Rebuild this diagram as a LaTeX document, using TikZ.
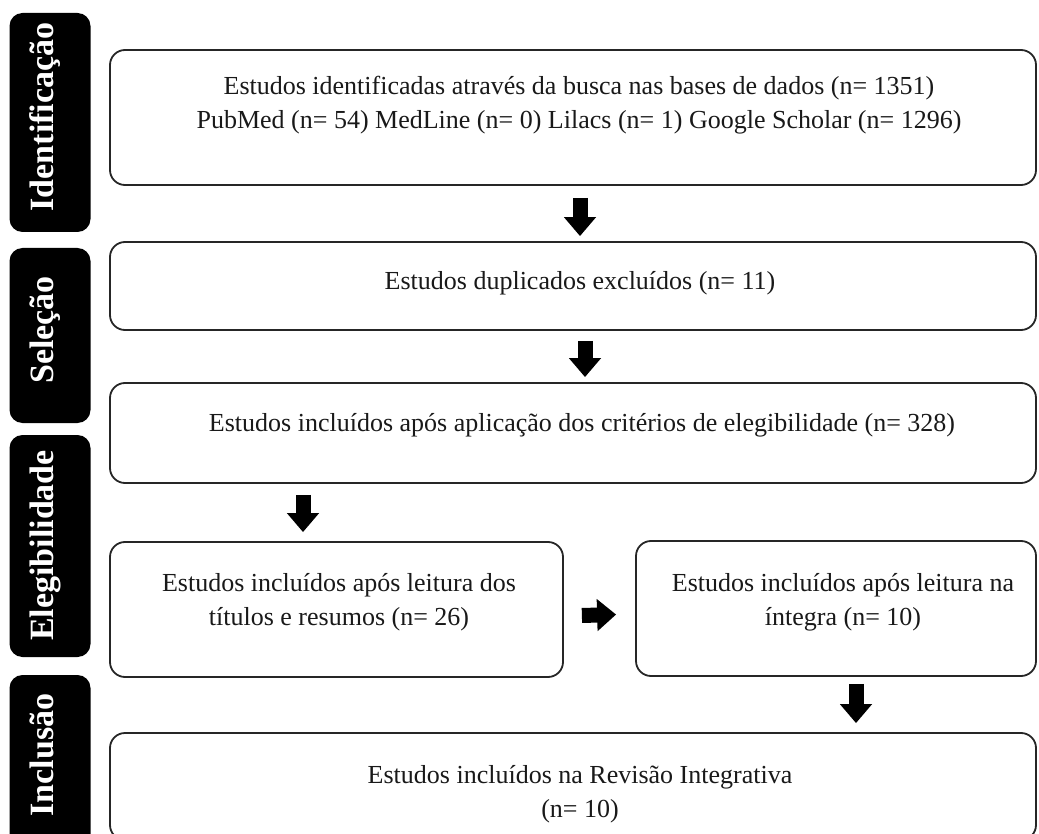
\documentclass[tikz,border=0pt]{standalone}
\usepackage{fontspec}
\setmainfont{Liberation Serif}
\usetikzlibrary{arrows.meta}
\begin{document}
\begin{tikzpicture}[x=1pt,y=-1pt,
  box/.style={draw=black!85, line width=1.8pt, rounded corners=15pt, fill=white, inner sep=0pt},
  bar/.style={fill=black, rounded corners=13pt, inner sep=0pt, minimum width=81pt},
  bartext/.style={text=white, font=\fontsize{34}{34}\selectfont\bfseries, rotate=90, anchor=base, inner sep=0pt},
  txt/.style={align=center, font=\fontsize{26}{34}\selectfont, text=black!90, inner sep=0pt},
  barrow/.style={line width=15pt, draw=black, -{Triangle[width=31pt,length=19pt]}}
]
\useasboundingbox (0,0) rectangle (1039,834);
\fill[white] (0,0) rectangle (1039,834);

% phase bars
\node[bar, minimum height=219pt] (l1) at (50,122.5) {};
\node[bar, minimum height=175pt] (l2) at (50,335.5) {};
\node[bar, minimum height=222pt] (l3) at (50,546) {};
\node[bar, minimum height=175pt] (l4) at (50,762.5) {};
\node[bartext] (lt1) at (53,117) {Identificação};
\node[bartext] (lt2) at (53,330) {Seleção};
\node[bartext] (lt3) at (53,545.5) {Elegibilidade};
\node[bartext] (lt4) at (53,755) {Inclusão};

% boxes
\node[box, minimum width=926pt, minimum height=135pt] (b1) at (573,117.5) {};
\node[box, minimum width=926pt, minimum height=88pt] (b2) at (573,286) {};
\node[box, minimum width=926pt, minimum height=100pt] (b3) at (573,433) {};
\node[box, minimum width=453pt, minimum height=135pt] (b4) at (336.5,609.5) {};
\node[box, minimum width=400pt, minimum height=135pt] (b5) at (836,608.5) {};
\node[box, minimum width=926pt, minimum height=107pt] (b6) at (573,786.5) {};

% texts
\node[txt] (t1) at (579,105) {Estudos identificadas através da busca nas bases de dados (n= 1351)\\PubMed (n= 54) MedLine (n= 0) Lilacs (n= 1) Google Scholar (n= 1296)};
\node[txt] (t2) at (580,283) {Estudos duplicados excluídos (n= 11)};
\node[txt] (t3) at (582,425) {Estudos incluídos após aplicação dos critérios de elegibilidade (n= 328)};
\node[txt] (t4) at (339,602.5) {Estudos incluídos após leitura dos\\títulos e resumos (n= 26)};
\node[txt] (t5) at (843,602.5) {Estudos incluídos após leitura na\\íntegra (n= 10)};
\node[txt] (t6) at (580,794.5) {Estudos incluídos na Revisão Integrativa\\(n= 10)};

% arrows
\draw[barrow, shorten <=12pt, shorten >=5pt] ([xshift=7pt]b1.south) -- ([xshift=7pt]b2.north);
\draw[barrow, shorten <=10pt, shorten >=5pt] ([xshift=12pt]b2.south) -- ([xshift=12pt]b3.north);
\draw[barrow, shorten <=11pt, shorten >=9pt] (b3.south -| 303,0) -- (b4.north -| 303,0);
\draw[barrow, shorten <=18pt, shorten >=19pt] ([yshift=-6.5pt]b4.east) -- ([yshift=-5.5pt]b5.west);
\draw[barrow, shorten <=7pt, shorten >=9pt] ([xshift=20pt]b5.south) -- (b6.north -| 856,0);
\end{tikzpicture}
\end{document}
